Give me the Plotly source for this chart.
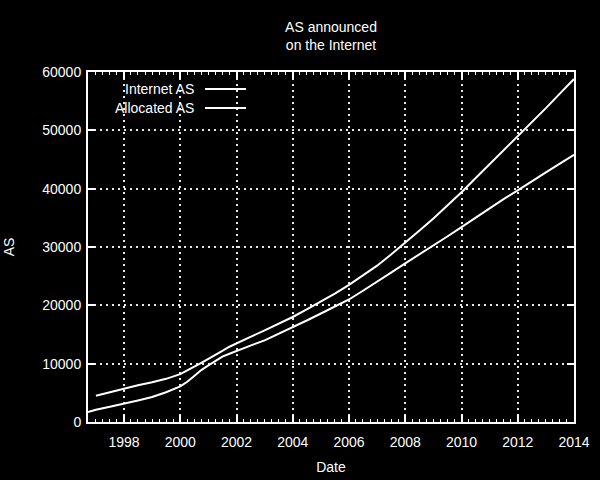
import plotly.graph_objects as go

# ---- data ----
allocated_dates = ["1997-01-01", "1997-07-01", "1998-01-01", "1998-07-01", "1999-01-01",
                   "1999-07-01", "2000-01-01", "2000-04-01", "2000-07-01", "2000-10-01",
                   "2001-01-01", "2001-04-01", "2001-07-01", "2001-10-01",
                   "2002-01-01", "2002-07-01", "2003-01-01", "2003-07-01", "2004-01-01",
                   "2004-07-01", "2005-01-01", "2005-07-01", "2006-01-01", "2006-07-01",
                   "2007-01-01", "2007-07-01", "2008-01-01", "2008-07-01", "2009-01-01",
                   "2009-07-01", "2010-01-01", "2010-07-01", "2011-01-01", "2011-07-01",
                   "2012-01-01", "2012-07-01", "2013-01-01", "2013-07-01", "2014-01-01"]
allocated_as = [4500, 5100, 5800, 6300, 6800,
                7400, 8200, 8800, 9500, 10150,
                10800, 11500, 12200, 12900,
                13500, 14600, 15700, 16800, 18000,
                19300, 20600, 22000, 23500, 25100,
                26800, 28700, 30700, 32800, 34900,
                37100, 39400, 41800, 44200, 46700,
                49100, 51400, 53800, 56300, 58800]

internet_dates = ["1996-09-20", "1997-01-01", "1997-07-01", "1998-01-01", "1998-07-01",
                  "1999-01-01", "1999-07-01", "2000-01-01", "2000-04-01", "2000-07-01",
                  "2000-10-01", "2001-01-01", "2001-04-01", "2001-07-01", "2001-10-01",
                  "2002-01-01", "2002-07-01", "2003-01-01", "2003-07-01",
                  "2004-01-01", "2004-07-01", "2005-01-01", "2005-07-01", "2006-01-01",
                  "2006-07-01", "2007-01-01", "2007-07-01", "2008-01-01", "2008-07-01",
                  "2009-01-01", "2009-07-01", "2010-01-01", "2010-07-01", "2011-01-01",
                  "2011-07-01", "2012-01-01", "2012-07-01", "2013-01-01", "2013-07-01",
                  "2014-01-01"]
internet_as = [1700, 2100, 2600, 3100, 3700,
               4300, 5100, 6100, 6900, 7900,
               8900, 9700, 10500, 11200, 11700,
               12200, 13100, 14000, 15100,
               16300, 17400, 18600, 19800, 21000,
               22500, 24000, 25600, 27200, 28700,
               30200, 31800, 33400, 35000, 36600,
               38200, 39700, 41300, 42800, 44300,
               45800]

series_names = ["Internet AS", "Allocated AS"]
y_ticks = [0, 10000, 20000, 30000, 40000, 50000, 60000]

FONT = "Liberation Sans, Arial, sans-serif"
WHITE = "#ffffff"
GRID = "#e8e8e8"
FS = 14

fig = go.Figure()
fig.add_trace(go.Scatter(x=internet_dates, y=internet_as, mode="lines",
                         name=series_names[0], line=dict(color=WHITE, width=2)))
fig.add_trace(go.Scatter(x=allocated_dates, y=allocated_as, mode="lines",
                         name=series_names[1], line=dict(color=WHITE, width=2)))

fig.update_layout(
    width=600, height=480,
    paper_bgcolor="black", plot_bgcolor="black",
    margin=dict(l=88, r=26, t=72, b=58),
    showlegend=False,
    font=dict(family=FONT, size=FS, color=WHITE),
    title=dict(text="AS announced<br>on the Internet", x=(88 + 574) / 2 / 600,
               xanchor="center", y=1 - 32 / 480, yanchor="top",
               font=dict(family=FONT, size=FS, color=WHITE)),
)

fig.update_xaxes(
    type="date", range=["1996-09-20", "2014-01-01"], automargin=False,
    tick0="1998-01-01", dtick="M24", tickformat="%Y",
    showline=True, linecolor=WHITE, linewidth=2, mirror="ticks",
    ticks="inside", ticklen=7, tickcolor=WHITE, tickwidth=1.5,
    minor=dict(dtick="M3", ticks="inside", ticklen=3, tickcolor=WHITE, tickwidth=1.2, showgrid=False),
    showgrid=True, gridcolor=GRID, griddash="2px,4px", gridwidth=1.8,
    zeroline=False, ticklabelstandoff=6,
    title=dict(text="Date", font=dict(family=FONT, size=FS, color=WHITE), standoff=13),
    tickfont=dict(family=FONT, size=FS, color=WHITE),
)
fig.update_yaxes(
    range=[0, 60000], tickvals=y_ticks, ticktext=[str(v) for v in y_ticks], automargin=False,
    showline=True, linecolor=WHITE, linewidth=2, mirror="ticks",
    ticks="inside", ticklen=7, tickcolor=WHITE, tickwidth=1.5,
    showgrid=True, gridcolor=GRID, griddash="2px,4px", gridwidth=1.8,
    zeroline=False, ticklabelstandoff=2,
    title=dict(text="AS", font=dict(family=FONT, size=FS, color=WHITE), standoff=24),
    tickfont=dict(family=FONT, size=FS, color=WHITE),
)

# gnuplot-style key: text right-aligned, then line sample
key_rows = [(series_names[0], (422 - 89) / 350), (series_names[1], (422 - 108) / 350)]
for label, yp in key_rows:
    fig.add_annotation(text=label, xref="paper", yref="paper", x=(196 - 88) / 486, y=yp,
                       xanchor="right", yanchor="middle", showarrow=False,
                       font=dict(family=FONT, size=FS, color=WHITE))
    fig.add_shape(type="line", xref="paper", yref="paper",
                  x0=(205 - 88) / 486, x1=(246 - 88) / 486, y0=yp, y1=yp,
                  line=dict(color=WHITE, width=2))

fig.write_html("out.html", config={"displayModeBar": False},
               post_script="document.body.style.margin='0';"
                           "document.body.style.background='black';"
                           "document.documentElement.style.background='black';")
